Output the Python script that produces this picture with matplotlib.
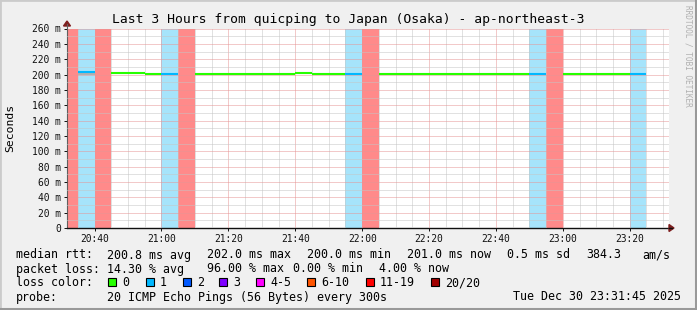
import matplotlib.pyplot as plt
from matplotlib.patches import Rectangle, Polygon
from matplotlib.lines import Line2D
import numpy as np

# chart data (x in minutes after 20:00)
step_start = [30, 35, 40, 45, 50, 55, 60, 65, 70, 75, 80, 85, 90, 95, 100, 105, 110,
              115, 120, 125, 130, 135, 140, 145, 150, 155, 160, 165, 170, 175, 180,
              185, 190, 195, 200]
step_loss = ['11-19', '1', '11-19', '0', '0', '0', '1', '11-19', '0', '0', '0', '0',
             '0', '0', '0', '0', '0', '1', '11-19', '0', '0', '0', '0', '0', '0', '0',
             '0', '0', '1', '11-19', '0', '0', '0', '0', '1']
median_ms = [np.nan, 203.0, np.nan, 201.5, 201.5, 200.5, 201.0, np.nan, 200.8, 200.8,
             201.0, 201.0, 201.0, 201.0, 202.5, 201.0, 200.8, 201.0, np.nan, 201.2,
             201.2, 201.0, 201.0, 200.8, 200.8, 200.6, 200.6, 200.8, 201.0, np.nan,
             201.0, 201.0, 200.3, 201.0, 201.0]
smoke_lo = [np.nan, 199.8, np.nan, 200.5, 200.5, 200.0, 200.2, np.nan, 200.0, 200.0,
            200.2, 200.2, 200.2, 200.2, 200.6, 200.2, 200.0, 200.2, np.nan, 200.4,
            200.4, 200.2, 200.2, 200.0, 200.0, 200.0, 200.0, 200.0, 200.2, np.nan,
            200.2, 200.2, 199.8, 200.2, 200.2]
smoke_hi = [np.nan, 203.5, np.nan, 202.2, 202.2, 202.6, 201.8, np.nan, 201.5, 201.5,
            201.6, 201.6, 201.6, 201.6, 203.0, 201.6, 201.8, 201.8, np.nan, 201.8,
            201.8, 201.6, 201.6, 201.5, 201.5, 201.4, 201.4, 201.6, 201.8, np.nan,
            201.6, 201.6, 201.2, 201.6, 201.8]
step_len = 5
x_start, x_end = 31.75, 211.75

x_tick_labels = ['20:40', '21:00', '21:20', '21:40', '22:00', '22:20', '22:40', '23:00', '23:20']
y_ticks = [0, 20, 40, 60, 80, 100, 120, 140, 160, 180, 200, 220, 240, 260]
y_tick_labels = ['0', '20 m', '40 m', '60 m', '80 m', '100 m', '120 m', '140 m', '160 m',
                 '180 m', '200 m', '220 m', '240 m', '260 m']

loss_names = ['0', '1', '2', '3', '4-5', '6-10', '11-19', '20/20']
loss_colors = ['#26ff00', '#00b8ff', '#0059ff', '#7e00ff', '#ff00ff', '#ff5500', '#ff0000', '#a10000']
band_colors = {'1': '#a6e4fb', '11-19': '#ff8a8a'}

W, H = 697, 310
MONO = 'DejaVu Sans Mono'

fig = plt.figure(figsize=(W / 100, H / 100), dpi=100)
fig.patch.set_facecolor('#f0f0f0')

# 3d border
fig.add_artist(Rectangle((0, 0), 1, 1, transform=fig.transFigure, fill=False,
                         edgecolor='#cbcbcb', linewidth=2))
fig.add_artist(Line2D([0, 1], [0.003, 0.003], transform=fig.transFigure, color='#999999', lw=2.2))
fig.add_artist(Line2D([0.9985, 0.9985], [0, 1], transform=fig.transFigure, color='#999999', lw=2.2))

ax = fig.add_axes([67 / W, (H - 228) / H, 602 / W, 199.5 / H])
ax.set_facecolor('white')

# loss background bands
for t, loss in zip(step_start, step_loss):
    if loss in band_colors:
        ax.axvspan(t, t + step_len, color=band_colors[loss], lw=0, zorder=1)

# smoke and median line
color_of = dict(zip(loss_names, loss_colors))
for t, loss, m, lo, hi in zip(step_start, step_loss, median_ms, smoke_lo, smoke_hi):
    if np.isnan(m):
        continue
    ax.fill_between([t, t + step_len], [lo, lo], [hi, hi], color='#b0b0b0', lw=0, zorder=3)
    ax.plot([t, t + step_len], [m, m], color=color_of[loss], lw=1.5,
            solid_capstyle='butt', zorder=4)

def to_min(s):
    h, mm = s.split(':')
    return (int(h) - 20) * 60 + int(mm)

ax.set_xlim(x_start, x_end)
ax.set_ylim(0, 260)
ax.set_xticks([to_min(s) for s in x_tick_labels])
ax.set_xticklabels(x_tick_labels)
ax.set_xticks(np.arange(35, 212, 5), minor=True)
ax.set_yticks(y_ticks)
ax.set_yticklabels(y_tick_labels)
ax.set_yticks(np.arange(10, 260, 20), minor=True)

ax.set_axisbelow(False)
ax.grid(which='minor', color='#c5c5c5', linestyle=(0, (1, 1)), linewidth=0.72)
ax.grid(which='major', color='#e69494', linestyle=(0, (1, 1)), linewidth=0.72)

ax.tick_params(axis='both', which='major', labelsize=6.9, colors='#101010',
               length=2.5, width=0.7, pad=2)
ax.tick_params(axis='both', which='minor', length=0)
for lab in ax.get_xticklabels() + ax.get_yticklabels():
    lab.set_family(MONO)

for s in ['top', 'right']:
    ax.spines[s].set_visible(False)
ax.spines['left'].set_color('#606060')
ax.spines['left'].set_linewidth(0.8)
ax.spines['bottom'].set_color('#101010')
ax.spines['bottom'].set_linewidth(1.0)

def px(x, y):
    return (x / W, 1 - y / H)

# axis arrows
fig.add_artist(Line2D([67 / W, 67 / W], [1 - 28.5 / H, 1 - 24 / H], transform=fig.transFigure,
                      color='#606060', lw=0.8))
fig.add_artist(Polygon([px(67, 21), px(63.5, 26), px(70.5, 26)], closed=True,
                       transform=fig.transFigure, color='#7f1f1f'))
fig.add_artist(Line2D([669 / W, 672 / W], [1 - 228 / H, 1 - 228 / H], transform=fig.transFigure,
                      color='#101010', lw=1.0))
fig.add_artist(Polygon([px(674, 228), px(669, 224.5), px(669, 231.5)], closed=True,
                       transform=fig.transFigure, color='#7f1f1f'))

# title, axis label, watermark
fig.text(0.5, 1 - 23 / H, 'Last 3 Hours from quicping to Japan (Osaka) - ap-northeast-3',
         ha='center', va='baseline', family=MONO, fontsize=9.4)
fig.text(10 / W, 1 - 128 / H, 'Seconds', rotation=90, ha='center', va='center',
         family=MONO, fontsize=8.2)
fig.text(688 / W, 1 - 5 / H, 'RRDTOOL / TOBI OETIKER', rotation=270, ha='center', va='top',
         family=MONO, fontsize=5.6, color='#b0b0b0')

# legend rows
fs = 8.4
row1 = [(16, 'median rtt:'), (107, '200.8 ms avg'), (207, '202.0 ms max'), (307, '200.0 ms min'),
        (407, '201.0 ms now'), (507, '0.5 ms sd'), (586, '384.3'), (642, 'am/s')]
row2 = [(16, 'packet loss:'), (107, '14.30 % avg'), (207, '96.00 % max'), (293, '0.00 % min'),
        (379, '4.00 % now')]
row4 = [(16, 'probe:'), (107, '20 ICMP Echo Pings (56 Bytes) every 300s'),
        (513, 'Tue Dec 30 23:31:45 2025')]
for (x, s) in row1:
    fig.text(x / W, 1 - 258.5 / H, s, ha='left', va='baseline', family=MONO, fontsize=fs)
for (x, s) in row2:
    fig.text(x / W, 1 - 272.5 / H, s, ha='left', va='baseline', family=MONO, fontsize=fs)
for (x, s) in row4:
    fig.text(x / W, 1 - 300.5 / H, s, ha='left', va='baseline', family=MONO, fontsize=fs)

fig.text(16 / W, 1 - 286.5 / H, 'loss color:', ha='left', va='baseline', family=MONO, fontsize=fs)
box_x = [108, 146, 183, 219, 256, 307, 366, 431]
for bx, name, col in zip(box_x, loss_names, loss_colors):
    fig.add_artist(Rectangle(px(bx, 286), 8 / W, 8 / H, transform=fig.transFigure,
                             facecolor=col, edgecolor='black', linewidth=0.8))
    fig.text((bx + 14) / W, 1 - 286.5 / H, name, ha='left', va='baseline', family=MONO, fontsize=fs)

fig.savefig('out.png', dpi=100, facecolor=fig.get_facecolor())
